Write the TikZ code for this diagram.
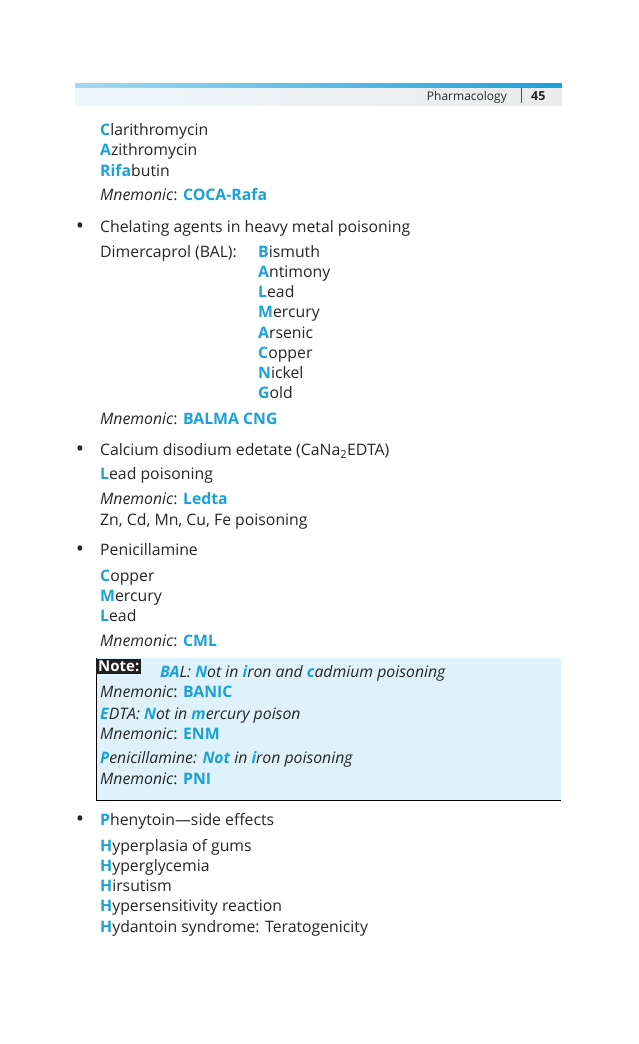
\documentclass[tikz,border=0pt]{standalone}
\usepackage{fontspec}
\setmainfont{Open Sans}
\definecolor{cy}{HTML}{1BA1D8}
\definecolor{notebg}{HTML}{DFF1FB}
\newcommand{\C}[1]{\textcolor{cy}{\textbf{#1}}}
\newcommand{\CI}[1]{\textcolor{cy}{\textbf{\itshape #1}}}
\def\FL#1#2\relax{\C{#1}#2}
\begin{document}
\begin{tikzpicture}[x=1pt,y=-1pt,
  tx/.style={anchor=base west,inner sep=0pt,font=\fontsize{15.8}{18}\selectfont,text=black!85}]
\useasboundingbox (0,0) rectangle (638,1044);
\fill[white] (0,0) rectangle (638,1044);
% header
\shade[left color=white!92!cy, right color=black!8] (75,84) rectangle (562,105);
\shade[left color=cy!40, right color=cy] (75,83) rectangle (562,87);
\node[tx,anchor=base east,font=\fontsize{12}{14}\selectfont] (hd) at (507,100) {Pharmacology};
\draw[black!70,line width=1pt] (521,88) -- (521,103);
\node[tx,font=\bfseries\fontsize{12.5}{14}\selectfont] (pg) at (531,100) {45};
% note box
\fill[notebg] (96,658) rectangle (561,800);
\draw[black,line width=0.8pt] (96,658) -- (96,800) -- (561,800);
\node[fill=black!88,text=white,font=\bfseries\fontsize{15}{17}\selectfont,inner sep=2pt,anchor=north west] (note) at (96,659) {Note:};
\foreach \y/\t/\n in {
135/{\C{C}larithromycin}/a1, 155/{\C{A}zithromycin}/a2, 176/{\C{Rifa}butin}/a3,
200/{\textit{Mnemonic}: \C{COCA-Rafa}}/a4,
257/{Dimercaprol (BAL):}/b1,
424/{\textit{Mnemonic}: \C{BALMA CNG}}/b2,
479/{\C{L}ead poisoning}/c1, 504/{\textit{Mnemonic}: \C{Ledta}}/c2, 525/{Zn, Cd, Mn, Cu, Fe poisoning}/c3,
581/{\C{C}opper}/d1, 601/{\C{M}ercury}/d2, 621/{\C{L}ead}/d3, 646/{\textit{Mnemonic}: \C{CML}}/d4,
697/{\textit{Mnemonic}: \C{BANIC}}/n2, 719/{\itshape\CI{E}DTA: \CI{N}ot in \CI{m}ercury poison}/n3,
739/{\textit{Mnemonic}: \C{ENM}}/n4, 763/{\itshape\CI{P}enicillamine: \CI{Not} in \CI{i}ron poisoning}/n5,
784/{\textit{Mnemonic}: \C{PNI}}/n6,
851/{\C{H}yperplasia of gums}/e1, 871/{\C{H}yperglycemia}/e2, 891/{\C{H}irsutism}/e3,
911/{\C{H}ypersensitivity reaction}/e4, 932/{\C{H}ydantoin syndrome: Teratogenicity}/e5}
  \node[tx] (\n) at (100,\y) {\t};
\node[tx] (n1) at (160,677) {\itshape\CI{BA}L: \CI{N}ot in \CI{i}ron and \CI{c}admium poisoning};
\foreach \y/\t/\n in {257/Bismuth/m1,277/Antimony/m2,297/Lead/m3,317/Mercury/m4,338/Arsenic/m5,358/Copper/m6,378/Nickel/m7,398/Gold/m8}
  \node[tx] (\n) at (258,\y) {\expandafter\FL\t\relax};
\foreach \y/\t/\n in {232/{Chelating agents in heavy metal poisoning}/p1,
455/{Calcium disodium edetate (CaNa\textsubscript{2}EDTA)}/p2,
555/{Penicillamine}/p3, 825/{\C{P}henytoin—side effects}/p4}
  {\node[tx] (\n) at (100,\y) {\t};
   \node[tx,anchor=base,font=\fontsize{22}{22}\selectfont] (\n b) at (80,\y+1) {•};}
\end{tikzpicture}
\end{document}
